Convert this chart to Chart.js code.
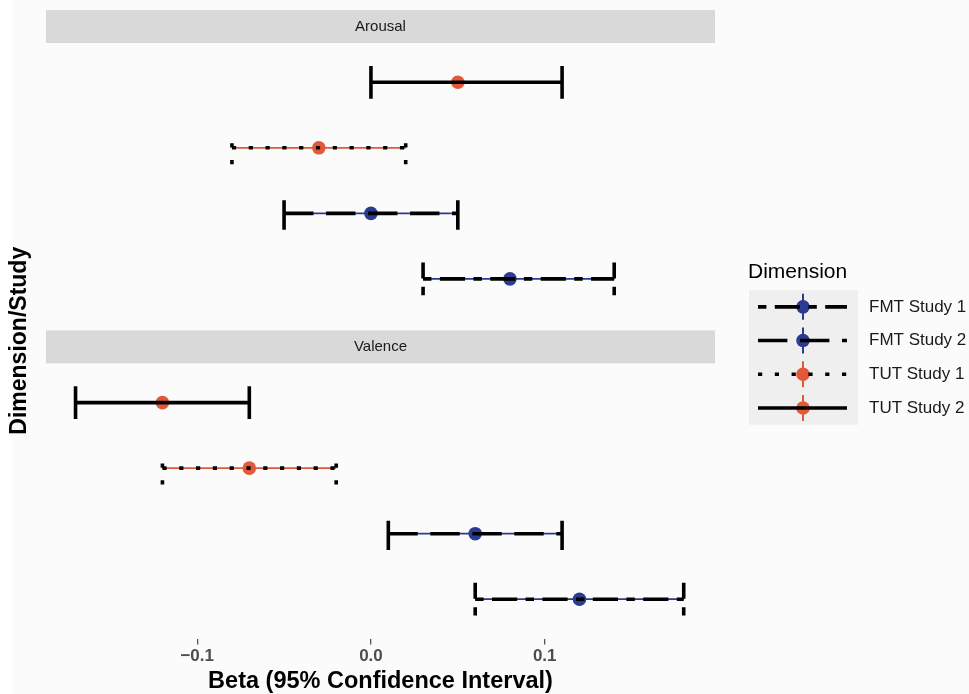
<!DOCTYPE html>
<html>
<head>
<meta charset="utf-8">
<title>Beta by dimension and study</title>
<script src="https://cdn.jsdelivr.net/npm/chart.js@4/dist/chart.umd.min.js"></script>
<style>
  html, body { margin: 0; padding: 0; background: #ffffff; }
  #wrap { width: 969px; height: 694px; }
</style>
</head>
<body>
<div id="wrap"><canvas id="forest" width="969" height="694"></canvas></div>
<script>
// legend order
var groups = ['FMT Study 1', 'FMT Study 2', 'TUT Study 1', 'TUT Study 2'];
// rows from top to bottom inside each facet
var rowOrder = ['TUT Study 2', 'TUT Study 1', 'FMT Study 2', 'FMT Study 1'];
var facets = ['Arousal', 'Valence'];

// values in the same order as groups
var arousalBeta = [0.08, 0.00, -0.03, 0.05];
var arousalLow  = [0.03, -0.05, -0.08, 0.00];
var arousalHigh = [0.14, 0.05, 0.02, 0.11];

var valenceBeta = [0.12, 0.06, -0.07, -0.12];
var valenceLow  = [0.06, 0.01, -0.12, -0.17];
var valenceHigh = [0.18, 0.11, -0.02, -0.07];

var xTickValues = [-0.1, 0, 0.1];
var xTickLabels = ['\u22120.1', '0.0', '0.1'];

var xMin = -0.187, xMax = 0.198;

var groupColor = {
  'FMT Study 1': '#2B3A92',
  'FMT Study 2': '#2B3A92',
  'TUT Study 1': '#E1583A',
  'TUT Study 2': '#E1583A'
};
// R line types, in units of the line width
var groupLinetype = {
  'FMT Study 1': [2, 2, 6, 2],
  'FMT Study 2': [7, 3],
  'TUT Study 1': [1, 3],
  'TUT Study 2': []
};
var dashUnit = 4.2;
var barWidth = 3.6;
var capHalf = 0.25;

var expand = 0.6;     // discrete axis expansion
var facetGap = 0.69;  // room between the two panels (holds the second strip)
var stripH = 33;

function rowY(f, r) {
  return f * (rowOrder.length - 1 + 2 * expand + facetGap) + 1 + r;
}
var yMin = rowY(0, 0) - expand;
var yMax = rowY(facets.length - 1, rowOrder.length - 1) + expand;

function dashFor(g) {
  return groupLinetype[g].map(function (v) { return v * dashUnit; });
}

var datasets = [];
facets.forEach(function (facet, f) {
  var beta = f === 0 ? arousalBeta : valenceBeta;
  var low = f === 0 ? arousalLow : valenceLow;
  var high = f === 0 ? arousalHigh : valenceHigh;
  groups.forEach(function (g, i) {
    var y = rowY(f, rowOrder.indexOf(g));
    datasets.push({
      label: facet + ' ' + g + ' range',
      data: [{x: low[i], y: y}, {x: high[i], y: y}],
      showLine: true,
      borderColor: groupColor[g],
      borderWidth: 1.8,
      pointRadius: 0,
      order: 3
    });
    datasets.push({
      label: facet + ' ' + g,
      data: [{x: beta[i], y: y}],
      pointRadius: 6.8,
      pointBackgroundColor: groupColor[g],
      pointBorderWidth: 0,
      order: 2
    });
    // errorbar: left cap, bar, right cap as three separate strokes
    datasets.push({
      label: facet + ' ' + g + ' CI',
      data: [
        {x: low[i], y: y + capHalf}, {x: low[i], y: y - capHalf}, {x: low[i], y: null},
        {x: low[i], y: y}, {x: high[i], y: y}, {x: high[i], y: null},
        {x: high[i], y: y + capHalf}, {x: high[i], y: y - capHalf}
      ],
      showLine: true,
      spanGaps: false,
      borderColor: '#000000',
      borderWidth: barWidth,
      borderDash: dashFor(g),
      borderCapStyle: 'butt',
      pointRadius: 0,
      order: 1
    });
  });
});

var facetDecor = {
  id: 'facetDecor',
  beforeDraw: function (chart) {
    var ctx = chart.ctx, area = chart.chartArea, ys = chart.scales.y;
    ctx.save();
    ctx.fillStyle = '#FBFBFB';
    ctx.fillRect(12, 0, chart.width - 12, chart.height);
    facets.forEach(function (facet, f) {
      var bottom = ys.getPixelForValue(rowY(f, 0) - expand);
      ctx.fillStyle = '#D9D9D9';
      ctx.fillRect(area.left, bottom - stripH, area.right - area.left, stripH);
      ctx.fillStyle = '#1A1A1A';
      ctx.font = '15px "Liberation Sans", Arial, sans-serif';
      ctx.textAlign = 'center';
      ctx.textBaseline = 'middle';
      ctx.fillText(facet, (area.left + area.right) / 2, bottom - stripH / 2);
    });
    ctx.restore();
  },
  afterDraw: function (chart) {
    var ctx = chart.ctx;
    var lx = 749, ly = 290, kw = 109, kh = 33.7;
    ctx.save();
    ctx.fillStyle = '#000000';
    ctx.font = '21px "Liberation Sans", Arial, sans-serif';
    ctx.textAlign = 'left';
    ctx.textBaseline = 'alphabetic';
    ctx.fillText('Dimension', lx - 1, 278);
    ctx.fillStyle = '#EFEFEF';
    ctx.fillRect(lx, ly, kw, kh * groups.length);
    groups.forEach(function (g, k) {
      var cy = ly + kh * (k + 0.5);
      var cx = lx + 54;
      ctx.setLineDash([]);
      ctx.strokeStyle = groupColor[g];
      ctx.lineWidth = 2;
      ctx.beginPath();
      ctx.moveTo(cx, cy - 13);
      ctx.lineTo(cx, cy + 13);
      ctx.stroke();
      ctx.fillStyle = groupColor[g];
      ctx.beginPath();
      ctx.arc(cx, cy, 6.8, 0, Math.PI * 2);
      ctx.fill();
      ctx.strokeStyle = '#000000';
      ctx.lineWidth = barWidth;
      ctx.lineCap = 'butt';
      ctx.setLineDash(dashFor(g));
      ctx.beginPath();
      ctx.moveTo(lx + 9, cy);
      ctx.lineTo(lx + 98, cy);
      ctx.stroke();
      ctx.setLineDash([]);
      ctx.fillStyle = '#1A1A1A';
      ctx.font = '17px "Liberation Sans", Arial, sans-serif';
      ctx.textBaseline = 'middle';
      ctx.fillText(g, lx + 120, cy);
    });
    ctx.restore();
  }
};

Chart.defaults.font.family = '"Liberation Sans", Arial, Helvetica, sans-serif';

var ctx = document.getElementById('forest').getContext('2d');
new Chart(ctx, {
  type: 'scatter',
  data: { datasets: datasets },
  options: {
    responsive: false,
    animation: false,
    events: [],
    layout: { padding: { left: 2, top: 43, right: 254, bottom: 1 } },
    plugins: {
      legend: { display: false },
      tooltip: { enabled: false }
    },
    scales: {
      x: {
        type: 'linear',
        min: xMin,
        max: xMax,
        afterBuildTicks: function (axis) {
          axis.ticks = xTickValues.map(function (v) { return {value: v}; });
        },
        ticks: {
          callback: function (value) { return xTickLabels[xTickValues.indexOf(value)]; },
          color: '#4D4D4D',
          font: { size: 17, weight: 'bold', lineHeight: 1 },
          padding: 3,
          maxRotation: 0,
          autoSkip: false
        },
        grid: { drawOnChartArea: false, drawTicks: true, tickLength: 6, color: '#555555', lineWidth: 1.3 },
        border: { display: false },
        title: {
          display: true,
          text: 'Beta (95% Confidence Interval)',
          color: '#000000',
          font: { size: 23.5, weight: 'bold', lineHeight: 1 },
          padding: { top: 2, bottom: 0 }
        }
      },
      y: {
        type: 'linear',
        reverse: true,
        min: yMin,
        max: yMax,
        ticks: { display: false },
        grid: { display: false, drawTicks: false },
        border: { display: false },
        title: {
          display: true,
          text: 'Dimension/Study',
          color: '#000000',
          font: { size: 23, weight: 'bold', lineHeight: 1 },
          padding: { top: 6, bottom: 15 }
        }
      }
    }
  },
  plugins: [facetDecor]
});
</script>
</body>
</html>
